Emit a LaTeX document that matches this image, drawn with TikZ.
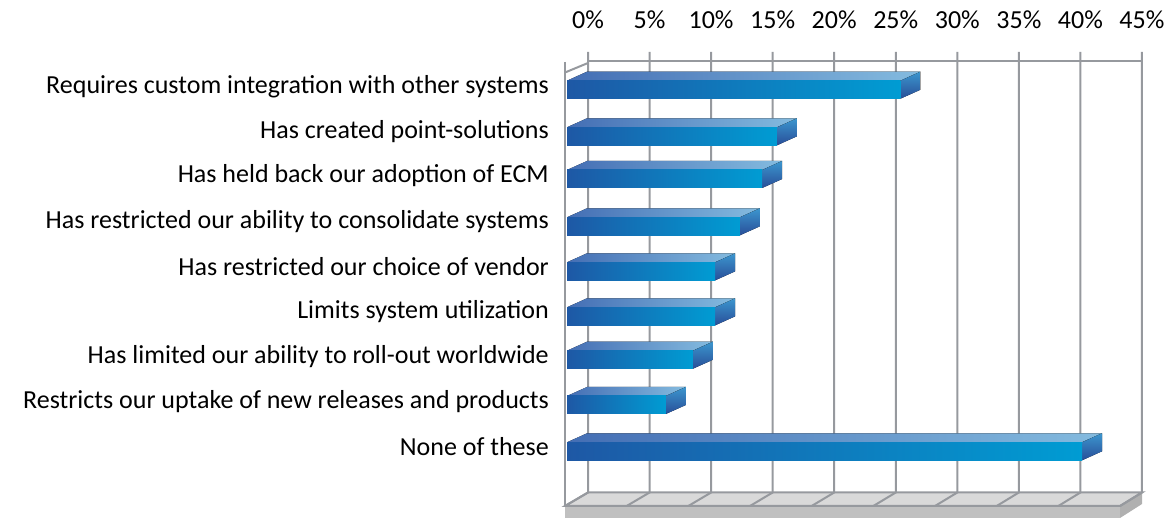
\documentclass[tikz,border=0pt]{standalone}
\usepackage{fontspec}
\setmainfont{Carlito}
\definecolor{gridgrey}{RGB}{150,153,158}
\definecolor{floortop}{RGB}{217,217,217}
\definecolor{slabfront}{RGB}{192,192,192}
\definecolor{slabside}{RGB}{176,176,176}
\definecolor{bardark}{RGB}{30,88,165}
\definecolor{barmid}{RGB}{98,138,185}
\definecolor{barcyan}{RGB}{0,156,211}
\definecolor{topleft}{RGB}{68,110,180}
\definecolor{topright}{RGB}{132,187,223}
\definecolor{sidelight}{RGB}{60,150,206}
\definecolor{sidedark}{RGB}{40,78,152}

\begin{document}
\begin{tikzpicture}[x=1pt,y=-1pt,
    gridline/.style={line width=2pt,gridgrey},
    catlabel/.style={anchor=east,inner sep=0pt,font=\fontsize{26}{30}\selectfont},
    ticklabel/.style={inner sep=0pt,font=\fontsize{26}{30}\selectfont}]
    \useasboundingbox (0,0) rectangle (1171,518);

    % floor slab
    \fill[slabfront] (565,506) rectangle (1120,518);
    \fill[slabside] (1120,506) -- (1142,492.5) -- (1142,504) -- (1120,518) -- cycle;
    \fill[floortop] (565,506) -- (588,492.5) -- (1142,492.5) -- (1120,506) -- cycle;
    \draw[gridline] (565,506) -- (588,492.5) -- (1142,492.5) -- (1120,506) -- cycle;

    % back wall and floor grid
    \foreach \k in {0,...,9} {
        \draw[gridline] (588+61.55*\k,52) -- (588+61.55*\k,492.5) -- (565+61.67*\k,506);
        \node[ticklabel] (tick\k) at (588+61.55*\k,20) {\pgfmathparse{int(5*\k)}\pgfmathresult\%};
    }
    \draw[gridline] (588,61) -- (1142,61);

    % left wall
    \draw[gridline] (565,62) -- (565,506);
    \draw[gridline] (565,72.5) -- (588,63);

    % bars: value in %, top of front face
    \foreach \v/\t [count=\i] in {27.0/80.7, 17.0/127.3, 15.8/170, 14.0/217.3, 12.0/262.3,
                                 12.0/307.3, 10.2/350.7, 8.0/396, 41.7/442.3} {
        \pgfmathsetmacro{\xr}{567+12.35*\v}
        \fill[left color=topleft, right color=topright] (567,\t) -- (587,\t-9) -- (\xr+20,\t-9) -- (\xr,\t) -- cycle;
        \fill[top color=sidelight, bottom color=sidedark] (\xr,\t) -- (\xr+20,\t-9) -- (\xr+20,\t+9) -- (\xr,\t+18) -- cycle;
        \fill[left color=bardark, middle color=barmid, right color=barcyan] (567,\t) rectangle (\xr,\t+18);
    }

    % category labels
    \node[catlabel] (lbl1) at (549,86.5) {Requires custom integration with other systems};
    \node[catlabel] (lbl2) at (549,132) {Has created point-solutions};
    \node[catlabel] (lbl3) at (549,176) {Has held back our adoption of ECM};
    \node[catlabel] (lbl4) at (549,221.5) {Has restricted our ability to consolidate systems};
    \node[catlabel] (lbl5) at (549,267) {Has restricted our choice of vendor};
    \node[catlabel] (lbl6) at (549,312) {Limits system utilization};
    \node[catlabel] (lbl7) at (549,356.5) {Has limited our ability to roll-out worldwide};
    \node[catlabel] (lbl8) at (549,402) {Restricts our uptake of new releases and products};
    \node[catlabel] (lbl9) at (549,447) {None of these};
\end{tikzpicture}
\end{document}
